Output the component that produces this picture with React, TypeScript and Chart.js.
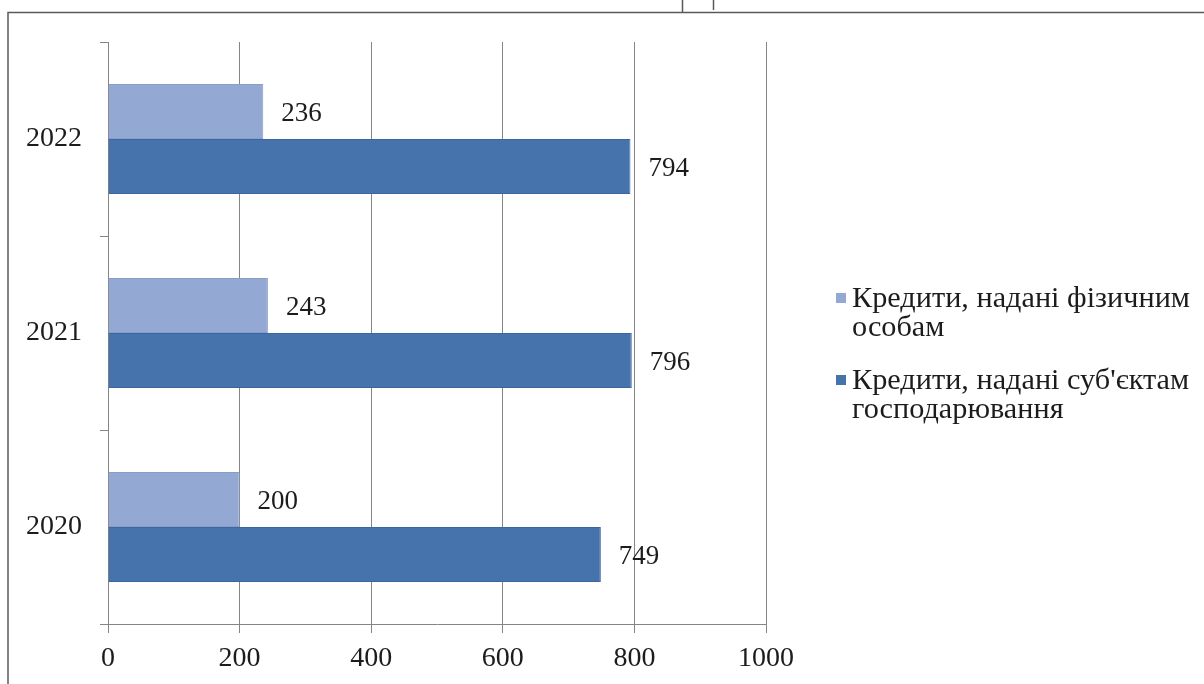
import React, { useEffect, useRef } from 'react';
import { Chart, registerables } from 'chart.js';

Chart.register(...registerables);

// Years, top to bottom
const years = ['2022', '2021', '2020'];
// Loans to individuals
const individualLoans = [236, 243, 200];
// Loans to business entities
const businessLoans = [794, 796, 749];
const seriesLabels: string[][] = [
  ['Кредити, надані фізичним', 'особам'],
  ["Кредити, надані суб'єктам", 'господарювання'],
];
const seriesColors = ['#93a8d2', '#4773ad'];
const seriesBorders = ['#8a9dc6', '#3c66a0'];
const xMin = 0;
const xMax = 1000;
const xStep = 200;

const SERIF = '"Liberation Serif", "Times New Roman", serif';
const TEXT = '#1c1c1c';
const AXIS = '#858585';

const framePlugin = {
  id: 'frame',
  beforeDraw(chart: any) {
    const { ctx, width, height } = chart;
    ctx.save();
    ctx.fillStyle = '#ffffff';
    ctx.fillRect(0, 0, width, height);
    ctx.strokeStyle = '#5a5a5a';
    ctx.lineWidth = 1.5;
    ctx.beginPath();
    ctx.moveTo(8, height);
    ctx.lineTo(8, 12.5);
    ctx.lineTo(width, 12.5);
    ctx.moveTo(682.5, 0);
    ctx.lineTo(682.5, 12);
    ctx.moveTo(713.5, 0);
    ctx.lineTo(713.5, 10);
    ctx.stroke();
    ctx.restore();
  },
};

const valueLabelPlugin = {
  id: 'valueLabels',
  afterDatasetsDraw(chart: any) {
    const { ctx } = chart;
    ctx.save();
    ctx.font = `27px ${SERIF}`;
    ctx.fillStyle = TEXT;
    ctx.textAlign = 'left';
    ctx.textBaseline = 'middle';
    chart.data.datasets.forEach((ds: any, di: number) => {
      const meta = chart.getDatasetMeta(di);
      meta.data.forEach((el: any, i: number) => {
        ctx.fillText(String(ds.data[i]), el.x + 18, el.y + 2);
      });
    });
    ctx.restore();
  },
};

// Legend at the right of the plot, with two-line entries
const sideLegendPlugin = {
  id: 'sideLegend',
  afterDraw(chart: any) {
    const { ctx, chartArea } = chart;
    const boxX = chartArea.right + 70;
    const textX = boxX + 16;
    const lineH = 29;
    const itemGap = 82;
    const firstLineWidth = 338;
    let y = chartArea.top + 257;
    ctx.save();
    ctx.font = `29px ${SERIF}`;
    ctx.textAlign = 'left';
    ctx.textBaseline = 'middle';
    const stretch = firstLineWidth / ctx.measureText(seriesLabels[0][0]).width;
    seriesLabels.forEach((lines, i) => {
      ctx.fillStyle = seriesColors[i];
      ctx.fillRect(boxX, y - 6, 10, 10);
      ctx.fillStyle = TEXT;
      lines.forEach((line, li) => {
        ctx.save();
        ctx.translate(textX, y + li * lineH);
        ctx.scale(stretch, 1);
        ctx.fillText(line, 0, 0);
        ctx.restore();
      });
      y += itemGap;
    });
    ctx.restore();
  },
};

export default function App() {
  const canvasRef = useRef<HTMLCanvasElement | null>(null);

  useEffect(() => {
    const canvas = canvasRef.current;
    if (!canvas) return;
    const chart = new Chart(canvas, {
      type: 'bar',
      data: {
        labels: years,
        datasets: [
          {
            label: seriesLabels[0].join(' '),
            data: individualLoans,
            backgroundColor: seriesColors[0],
            borderColor: seriesBorders[0],
            borderWidth: 1,
            categoryPercentage: 0.567,
            barPercentage: 1,
          },
          {
            label: seriesLabels[1].join(' '),
            data: businessLoans,
            backgroundColor: seriesColors[1],
            borderColor: seriesBorders[1],
            borderWidth: 1,
            categoryPercentage: 0.567,
            barPercentage: 1,
          },
        ],
      },
      options: {
        indexAxis: 'y',
        responsive: false,
        animation: false,
        layout: { padding: { top: 42, right: 438, left: 0, bottom: 0 } },
        plugins: {
          legend: { display: false },
          tooltip: { enabled: false },
        },
        scales: {
          x: {
            min: xMin,
            max: xMax,
            ticks: {
              stepSize: xStep,
              color: TEXT,
              font: { family: SERIF, size: 28 },
              padding: 9,
              callback: (v: any) => String(v),
            },
            grid: {
              color: AXIS,
              lineWidth: 1,
              tickLength: 9,
              drawOnChartArea: true,
            },
            border: { display: true, color: AXIS, width: 1 },
            afterFit(scale: any) {
              scale.height = 60;
            },
          },
          y: {
            offset: true,
            ticks: {
              color: TEXT,
              font: { family: SERIF, size: 28 },
              padding: 18,
            },
            grid: {
              offset: true,
              color: AXIS,
              lineWidth: 1,
              tickLength: 8,
              drawOnChartArea: false,
            },
            border: { display: true, color: AXIS, width: 1 },
            afterFit(scale: any) {
              scale.width = 108;
            },
          },
        },
      },
      plugins: [framePlugin, valueLabelPlugin, sideLegendPlugin],
    });
    return () => chart.destroy();
  }, []);

  return (
    <div style={{ position: 'fixed', left: 0, top: 0, width: 1204, height: 684, background: '#fff' }}>
      <canvas ref={canvasRef} width={1204} height={684} style={{ width: 1204, height: 684, display: 'block' }} />
    </div>
  );
}
